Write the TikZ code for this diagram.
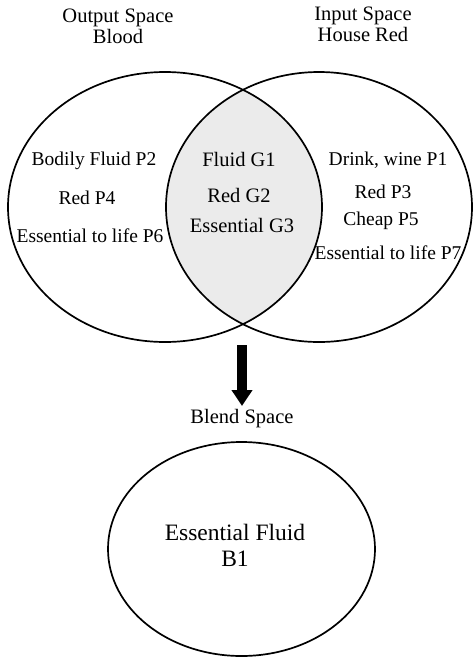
\documentclass[tikz,border=0pt]{standalone}
\usepackage{fontspec}
\setmainfont{Liberation Serif}
\usetikzlibrary{shapes.geometric,arrows.meta}
\begin{document}
\begin{tikzpicture}[x=1pt,y=-1pt,
  space/.style={draw, line width=1.7pt, ellipse, inner sep=0pt},
  lbl/.style={inner sep=0pt, align=center, font=\fontsize{19.5}{24}\selectfont},
  mid/.style={inner sep=0pt, align=center, font=\fontsize{20.5}{24}\selectfont},
  head/.style={inner sep=0pt, align=center, font=\fontsize{20.5}{23}\selectfont},
  big/.style={inner sep=0pt, align=center, font=\fontsize{23.5}{28}\selectfont}]
\useasboundingbox (0,0) rectangle (474,657);
% shaded intersection
\begin{scope}
  \clip (165,207) ellipse [x radius=157, y radius=135];
  \fill[black!8] (319,207) ellipse [x radius=153, y radius=135];
\end{scope}
\node[space, minimum width=314pt, minimum height=270pt] (out) at (165,207) {};
\node[space, minimum width=306pt, minimum height=270pt] (in) at (319,207) {};
\node[space, minimum width=267pt, minimum height=214pt] (blend) at (241.5,549) {};
% headings
\node[head] (outt) at (118,26) {Output Space\\[-2pt]Blood};
\node[head] (int) at (363,24) {Input Space\\[-2pt]House Red};
\node[head] (blt) at (242,419) {Blend Space};
% left
\node[lbl] (p2) at (94,161) {Bodily Fluid P2};
\node[lbl] (p4) at (87,198) {Red P4};
\node[lbl] (p6) at (90,236) {Essential to life P6};
% middle
\node[mid] (g1) at (239,159) {Fluid G1};
\node[mid] (g2) at (239,195) {Red G2};
\node[mid] (g3) at (242,225) {Essential G3};
% right
\node[lbl] (p1) at (388,160) {Drink, wine P1};
\node[lbl] (p3) at (383,192) {Red P3};
\node[lbl] (p5) at (381,221) {Cheap P5};
\node[lbl] (p7) at (388,253) {Essential to life P7};
% blend
\node[big] (b1) at (235,545) {Essential Fluid\\[-2pt]B1};
% arrow
\coordinate (a1) at (242,345);
\coordinate (a2) at (242,406);
\draw[line width=10pt, -{Triangle[width=20pt,length=16pt]}] (a1) -- (a2);
\end{tikzpicture}
\end{document}
